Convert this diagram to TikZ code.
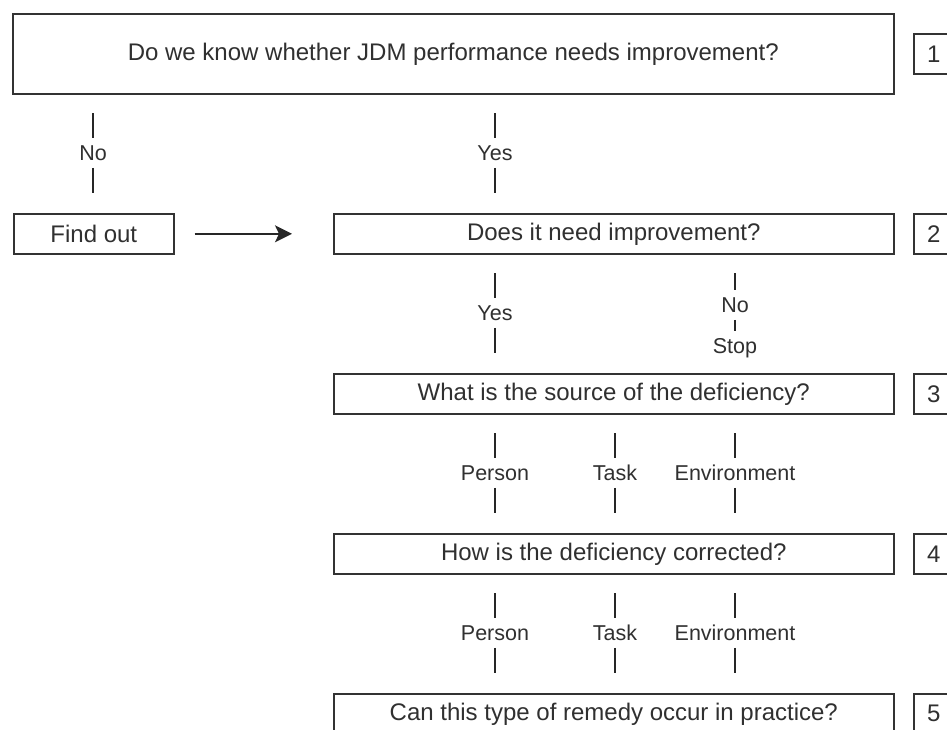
\documentclass[tikz,border=0pt]{standalone}
\usepackage{fontspec}
\setmainfont{Liberation Sans}
\usetikzlibrary{arrows.meta,calc}
\definecolor{ink}{HTML}{333333}
\definecolor{txt}{HTML}{303030}
\begin{document}
\begin{tikzpicture}[x=1pt,y=-1pt,
  box/.style={draw=ink, line width=1.6pt, fill=white, text=txt,
    font=\fontsize{24}{28}\selectfont, inner sep=0pt, anchor=north west},
  numbox/.style={box, minimum width=40pt, minimum height=40pt},
  rowbox/.style={box, minimum width=560pt, minimum height=40pt},
  lbl/.style={text=txt, font=\fontsize{21.5}{24}\selectfont,
    text height=15.5pt, text depth=0pt, inner xsep=2pt, inner ysep=7pt},
  link/.style={draw=black!85, line width=1.6pt},
]
\clip (0,0) rectangle (947,729);
\fill[white] (0,0) rectangle (947,729);

% question boxes and their step numbers
\node[box, minimum width=881pt, minimum height=80pt] (q1) at (12,13)
  {Do we know whether JDM performance needs improvement?};
\node[numbox] (n1) at (913,33) {1};

\node[box, minimum width=160pt, minimum height=40pt] (find) at (13,213) {Find out};
\node[rowbox] (q2) at (333,213) {Does it need improvement?};
\node[numbox] (n2) at (913,213) {2};

\node[rowbox] (q3) at (333,373) {What is the source of the deficiency?};
\node[numbox] (n3) at (913,373) {3};

\node[rowbox] (q4) at (333,533) {How is the deficiency corrected?};
\node[numbox] (n4) at (913,533) {4};

\node[rowbox] (q5) at (333,693) {Can this type of remedy occur in practice?};
\node[numbox] (n5) at (913,693) {5};

% an answer: a short stroke, the label, another short stroke
\newcommand\answer[5]{% name, x, top y, bottom y, text
  \coordinate (#1A) at (#2,#3);
  \coordinate (#1B) at (#2,#4);
  \node[lbl] (#1) at ($(#1A)!0.5!(#1B)$) {#5};
  \draw[link] (#1A) -- (#1.north);
  \draw[link] (#1.south) -- (#1B);
}

% answers below question 1
\answer{no1}{93}{113}{193}{No}
\answer{yes1}{495}{113}{193}{Yes}

% find out, then go on to question 2
\coordinate (arS) at ($(find.east)+(20,0)$);
\coordinate (arE) at ($(q2.west)+(-41,0)$);
\draw[link, -{Stealth[length=17pt, width=17pt, inset=4pt]}] (arS) -- (arE);

% answers below question 2
\answer{yes2}{495}{273}{353}{Yes}
\coordinate (no2A) at (735,273);
\node[lbl] (no2) at (735,305) {No};
\node[lbl] (stop) at (735,346) {Stop};
\draw[link] (no2A) -- (no2.north);
\draw[link] (no2.south) -- (stop.north);

% sources and corrections
\foreach \x/\name in {495/Person, 615/Task, 735/Environment}{
  \answer{s\x}{\x}{433}{513}{\name}
  \answer{c\x}{\x}{593}{673}{\name}
}
\end{tikzpicture}
\end{document}
